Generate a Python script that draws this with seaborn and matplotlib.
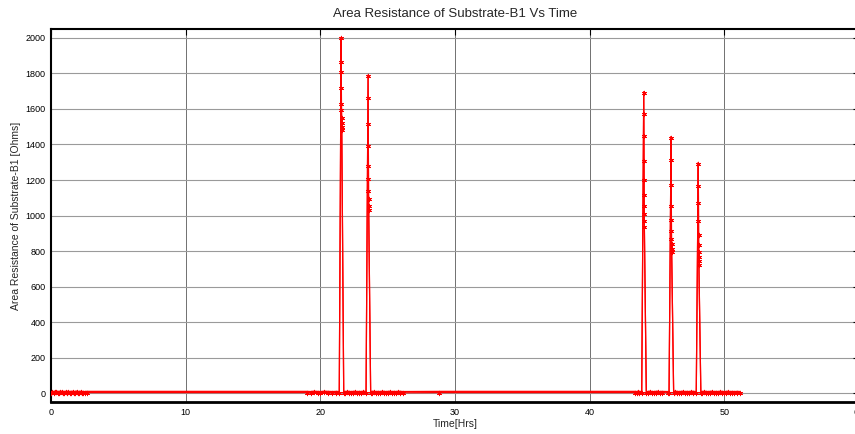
import matplotlib
matplotlib.use("Agg")
import matplotlib.pyplot as plt
import matplotlib.patheffects as pe
import numpy as np
import pandas as pd
import seaborn as sns

# Time stamps (hours) and area resistance (ohms) for Substrate-B1
time_early = [0.0, 0.1, 0.2, 0.3, 0.4, 0.5, 0.6, 0.7, 0.8, 0.9, 1.0, 1.1, 1.2, 1.3,
              1.4, 1.5, 1.6, 1.7, 1.8, 1.9, 2.0, 2.1, 2.2, 2.3, 2.4, 2.5, 2.65]
res_early = [3, 5, 2, 4, 6, 3, 2, 5, 4, 3, 2, 4, 3, 5, 2, 3, 4, 2, 3, 5, 2, 3, 4, 2, 3, 2, 3]

time_mid_a = [19.0, 19.3, 19.5, 19.8, 20.0, 20.3, 20.6, 20.9, 21.2, 21.41]
res_mid_a = [3, 2, 4, 3, 2, 4, 3, 2, 3, 2]

time_spike_a = [21.55, 21.555, 21.56, 21.565, 21.57, 21.575, 21.58, 21.585, 21.59, 21.595]
res_spike_a = [1997, 1865, 1809, 1719, 1629, 1592, 1551, 1522, 1498, 1480]

time_mid_b = [21.74, 21.85, 22.0, 22.15, 22.3, 22.45, 22.6, 22.75, 22.9, 23.05, 23.2, 23.40]
res_mid_b = [3, 2, 4, 3, 2, 3, 4, 2, 3, 2, 4, 3]

time_spike_b = [23.55, 23.555, 23.56, 23.565, 23.57, 23.575, 23.58, 23.585, 23.59, 23.595]
res_spike_b = [1785, 1663, 1517, 1392, 1279, 1204, 1139, 1092, 1054, 1030]

time_mid_c = [23.74, 23.85, 24.0, 24.15, 24.3, 24.45, 24.6, 24.75, 24.9, 25.05, 25.2,
              25.35, 25.5, 25.65, 25.8, 25.95, 26.15, 28.85]
res_mid_c = [2, 3, 4, 2, 3, 2, 4, 3, 2, 3, 4, 2, 3, 2, 4, 3, 2, 3]

time_mid_d = [43.4, 43.5, 43.6, 43.7, 43.87]
res_mid_d = [3, 2, 4, 3, 2]

time_spike_c = [44.02, 44.025, 44.03, 44.035, 44.04, 44.045, 44.05, 44.055, 44.06, 44.065]
res_spike_c = [1691, 1570, 1448, 1307, 1198, 1116, 1054, 1007, 970, 936]

time_mid_e = [44.21, 44.3, 44.45, 44.6, 44.75, 44.9, 45.05, 45.2, 45.35, 45.8, 45.9]
res_mid_e = [3, 2, 4, 3, 2, 3, 4, 2, 3, 2, 3]

time_spike_d = [46.05, 46.055, 46.06, 46.065, 46.07, 46.075, 46.08, 46.085, 46.09, 46.095]
res_spike_d = [1438, 1311, 1171, 1054, 974, 914, 867, 839, 811, 792]

time_mid_f = [46.24, 46.35, 46.5, 46.65, 46.8, 46.95, 47.1, 47.25, 47.4, 47.55, 47.7, 47.92]
res_mid_f = [2, 4, 3, 2, 3, 4, 2, 3, 2, 4, 3, 2]

time_spike_e = [48.07, 48.075, 48.08, 48.085, 48.09, 48.095, 48.10, 48.105, 48.11, 48.115]
res_spike_e = [1292, 1167, 1073, 970, 892, 835, 792, 764, 742, 723]

time_late = [48.26, 48.35, 48.5, 48.65, 48.8, 48.95, 49.1, 49.25, 49.4, 49.55, 49.7,
             49.85, 50.0, 50.15, 50.3, 50.45, 50.6, 50.75, 50.95, 51.2]
res_late = [3, 2, 4, 3, 2, 3, 4, 2, 3, 2, 4, 3, 2, 3, 4, 2, 3, 2, 3, 2]

x_ticks = [0, 10, 20, 30, 40, 50, 60]
y_ticks = [0, 200, 400, 600, 800, 1000, 1200, 1400, 1600, 1800, 2000]

time = (time_early + time_mid_a + time_spike_a + time_mid_b + time_spike_b + time_mid_c
        + time_mid_d + time_spike_c + time_mid_e + time_spike_d + time_mid_f
        + time_spike_e + time_late)
resistance = (res_early + res_mid_a + res_spike_a + res_mid_b + res_spike_b + res_mid_c
              + res_mid_d + res_spike_c + res_mid_e + res_spike_d + res_mid_f
              + res_spike_e + res_late)
df = pd.DataFrame({"Time": time, "Resistance": resistance})

sns.set_style("white")
plt.rcParams["font.family"] = ["Liberation Sans", "DejaVu Sans"]

fig = plt.figure(figsize=(8.55, 4.34), dpi=100)
ax = fig.add_axes([0.0596, 0.0737, 0.945, 0.8594])

# connecting trace; a slightly raised copy gives the flat runs a heavier stroke
sns.lineplot(data=df, x="Time", y="Resistance", ax=ax, color="red", linewidth=0.9,
             estimator=None, sort=False)
for line in ax.get_lines():
    line.set_path_effects([pe.Stroke(linewidth=0.9, foreground="red", offset=(0, 0.9)),
                           pe.Normal()])

# asterisk markers at every sample
sns.scatterplot(data=df, x="Time", y="Resistance", ax=ax, color="red",
                marker=(6, 2, 0), s=10, linewidth=0.7, zorder=3)

ax.set_xlim(0, 60)
ax.set_ylim(-50, 2050)
ax.set_xticks(x_ticks)
ax.set_yticks(y_ticks)
ax.tick_params(axis="both", direction="in", labelsize=6.5, length=4, width=0.8,
               top=True, right=True, pad=4, colors="black")
ax.grid(axis="x", color="#707070", linewidth=0.7)
ax.grid(axis="y", color="#9a9a9a", linewidth=0.8)
ax.set_axisbelow(True)
for side in ["left", "top", "right"]:
    ax.spines[side].set_color("black")
    ax.spines[side].set_linewidth(1.5)
ax.spines["bottom"].set_color("black")
ax.spines["bottom"].set_linewidth(2.0)

ax.set_title("Area Resistance of Substrate-B1 Vs Time", fontsize=9.5, pad=9)
ax.set_xlabel("Time[Hrs]", fontsize=7.5, labelpad=2)
ax.set_ylabel("Area Resistance of Substrate-B1 [Ohms]", fontsize=7.5, labelpad=3)

fig.savefig("out.png", dpi=100)
